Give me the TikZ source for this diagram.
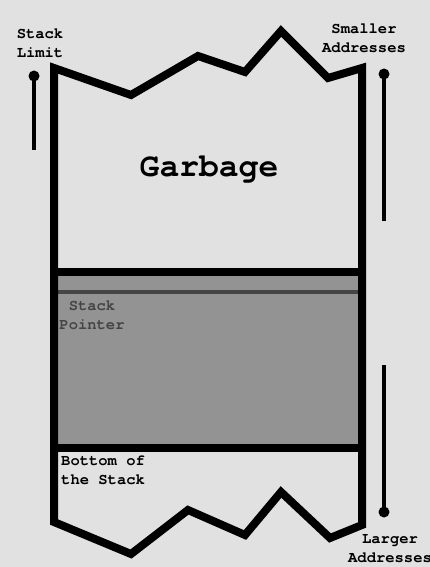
\documentclass[tikz,border=0pt]{standalone}
\usepackage{fontspec}
\setmonofont{TeX Gyre Cursor}
\begin{document}
\begin{tikzpicture}[x=1pt,y=-1pt,
  lbl/.style={font=\ttfamily\bfseries\fontsize{15.5}{19}\selectfont,align=center,inner sep=0pt},
  wall/.style={line width=8pt,line join=miter,line cap=butt},
  side/.style={line width=4pt},
  dotend/.style={circle,fill=black,inner sep=0pt,minimum size=11pt}]
\definecolor{bg}{HTML}{E1E1E1}
\definecolor{band}{HTML}{939393}
\definecolor{ptr}{HTML}{454545}
\fill[bg] (0,0) rectangle (430,567);
\useasboundingbox (0,0) rectangle (430,567);
% gray band
\fill[band] (54,276) rectangle (362,446);
\draw[ptr,line width=3.5pt] (54,292) -- (362,292);
% outline
\draw[wall] (54,68) -- (131,95) -- (198,56) -- (245,72) -- (281,31) -- (328,78) -- (362,68)
  -- (362,525) -- (330,538) -- (281,492) -- (245,535) -- (188,510) -- (131,554) -- (54,522) -- cycle;
\draw[wall] (54,272) -- (362,272);
\draw[wall] (54,448) -- (362,448);
% side markers
\node[dotend] (sl) at (34,76) {};
\coordinate (sle) at (34,150);
\draw[side] (sl.center) -- (sle);
\node[dotend] (sa) at (384,74) {};
\coordinate (sae) at (384,221);
\draw[side] (sa.center) -- (sae);
\node[dotend] (la) at (384,512) {};
\coordinate (las) at (384,365);
\draw[side] (las) -- (la.center);
% labels
\node[lbl] (tsl) at (40,43) {Stack\\Limit};
\node[lbl] (tsa) at (364,38) {Smaller\\Addresses};
\node[lbl] (tla) at (390,549) {Larger\\Addresses};
\node[font=\ttfamily\bfseries\fontsize{33}{36}\selectfont,inner sep=0pt] (tg) at (209,170) {Garbage};
\node[lbl,text=ptr] (tsp) at (92,315) {Stack\\Pointer};
\node[lbl,align=left,anchor=north west] (tbs) at (61,456) {Bottom of\\the Stack};
\end{tikzpicture}
\end{document}
